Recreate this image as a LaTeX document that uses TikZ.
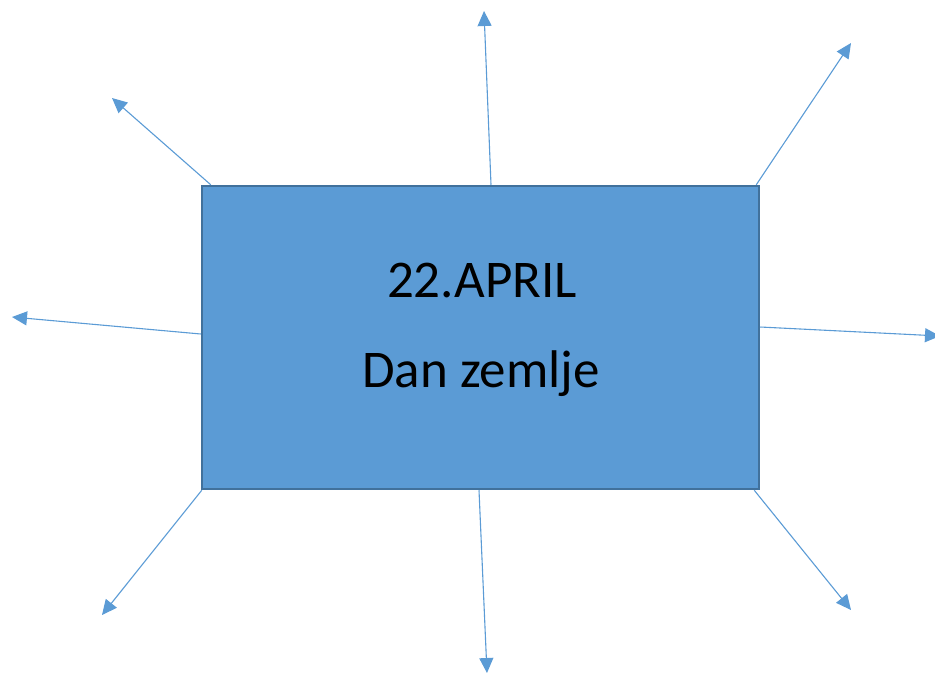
\documentclass[tikz,border=0pt]{standalone}
\usepackage{fontspec}
\setmainfont{Carlito}
\usetikzlibrary{arrows.meta,calc}
\definecolor{boxfill}{HTML}{5B9BD5}
\definecolor{boxline}{HTML}{41719C}
\tikzset{
  mainbox/.style={draw=boxline, line width=2.5pt, fill=boxfill, rectangle, inner sep=0pt, minimum width=557pt, minimum height=303pt},
  ray/.style={draw=boxfill, line width=1.1pt, -{Triangle[length=15pt,width=14pt]}},
  label/.style={inner sep=0pt, anchor=base, font=\fontsize{53}{60}\selectfont}
}
\begin{document}
\begin{tikzpicture}[x=1pt,y=-1pt]
\useasboundingbox (0,0) rectangle (935,673);
\node[mainbox] (box) at (480.5,337.5) {};
\node[label] (t1) at (482,297) {22.APRIL};
\node[label] (t2) at (481,387) {Dan zemlje};
\coordinate (tTL) at (112,98);
\coordinate (tT) at (484,11);
\coordinate (tTR) at (851,43);
\coordinate (tL) at (12,317);
\coordinate (tR) at (940,336);
\coordinate (tBL) at (102,615);
\coordinate (tB) at (487,673);
\coordinate (tBR) at (851,610);
\draw[ray] ($(box.north west)+(10,0)$) -- (tTL);
\draw[ray] ($(box.north)+(10.5,0)$) -- (tT);
\draw[ray] ($(box.north east)+(-4,0)$) -- (tTR);
\draw[ray] ($(box.west)+(0,-3.5)$) -- (tL);
\draw[ray] ($(box.east)+(0,-10.5)$) -- (tR);
\draw[ray] ($(box.south west)+(1,0)$) -- (tBL);
\draw[ray] ($(box.south)+(-1.5,0)$) -- (tB);
\draw[ray] ($(box.south east)+(-6,0)$) -- (tBR);
\end{tikzpicture}
\end{document}
